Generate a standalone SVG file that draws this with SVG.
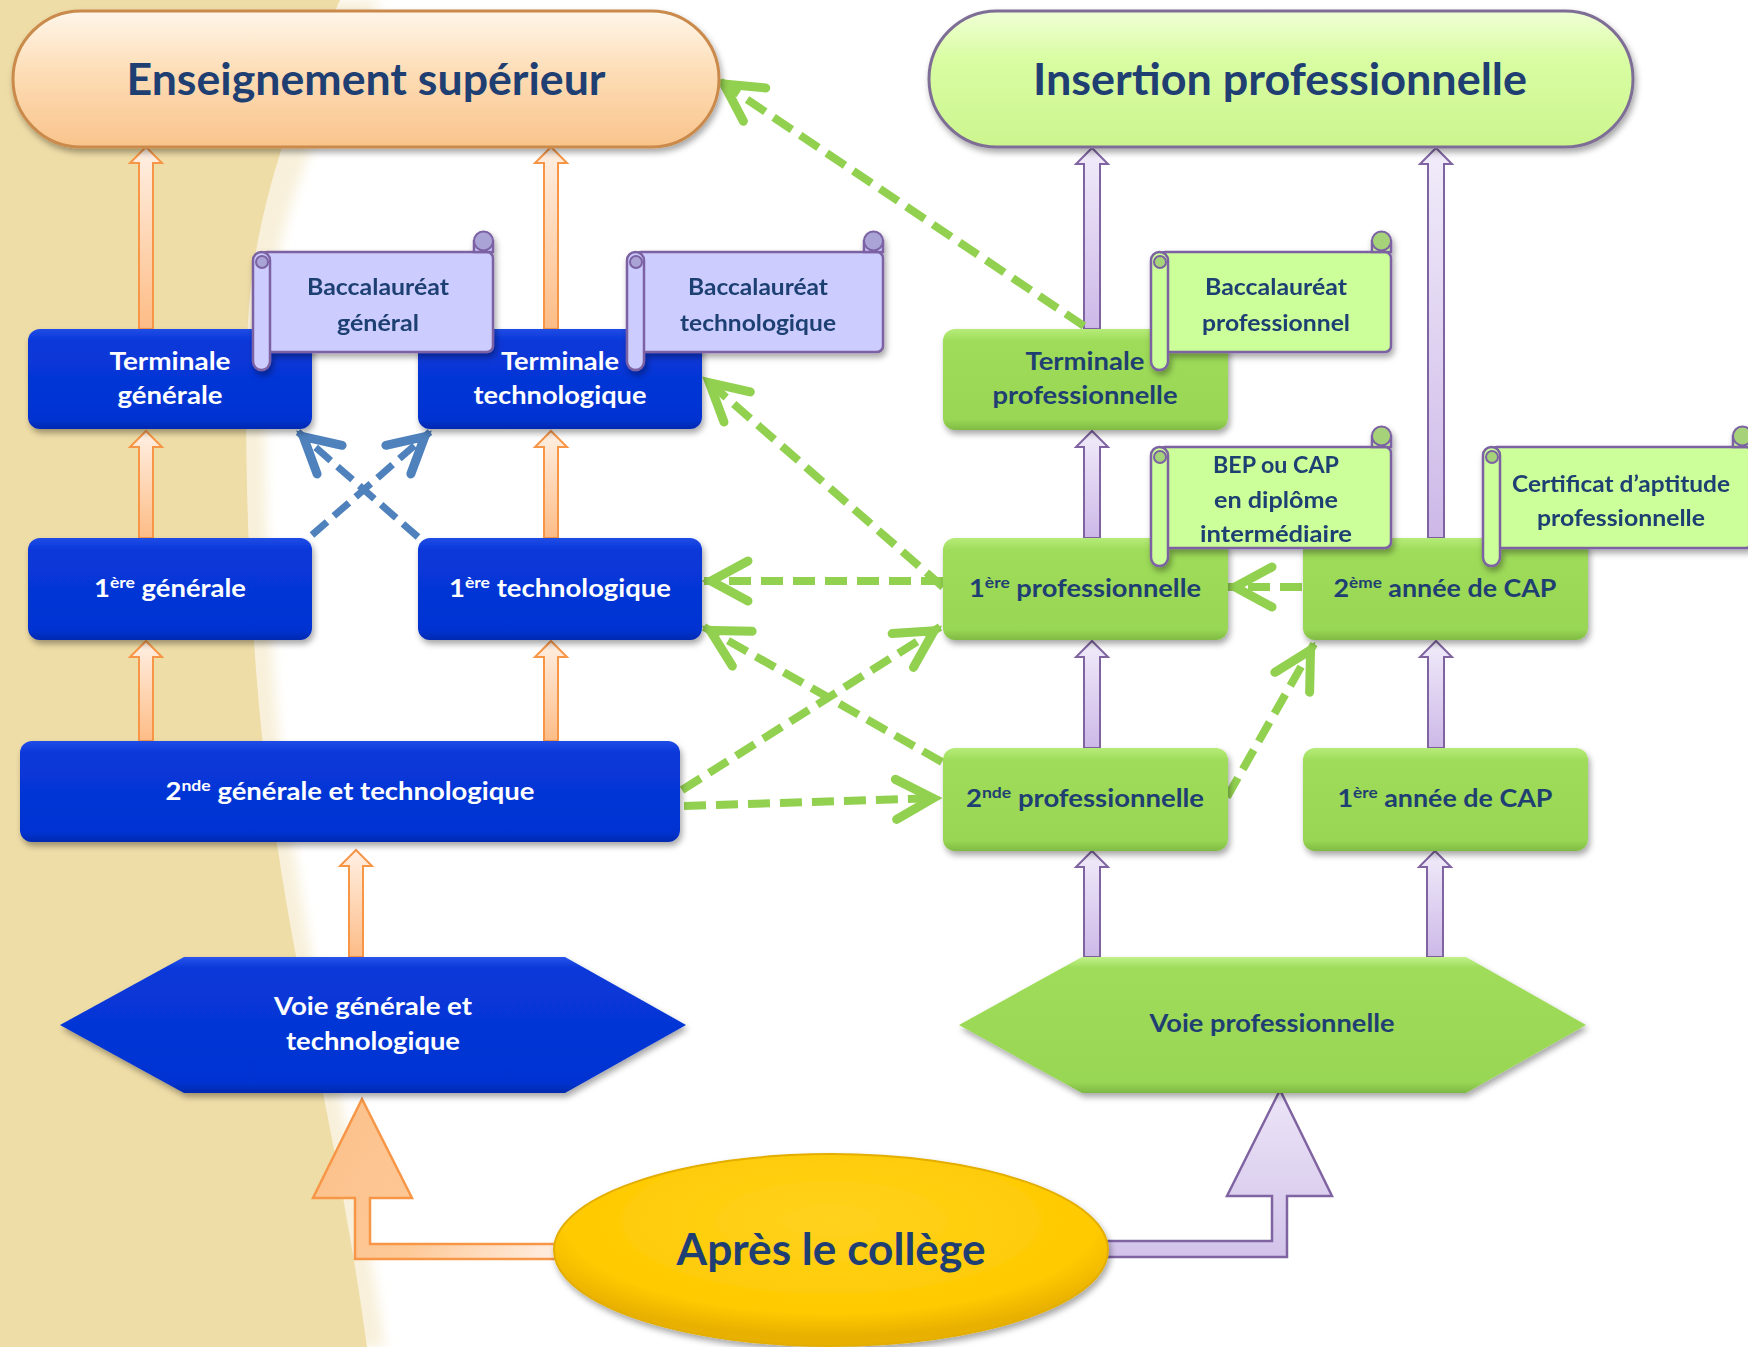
<svg xmlns="http://www.w3.org/2000/svg" width="1748" height="1347" viewBox="0 0 1748 1347">
<style>
.lbl{font-family:Lato,"Liberation Sans",sans-serif;font-weight:700;text-anchor:middle}
.w{fill:#ffffff}
.d{fill:#1F3F72}
.big{font-size:43px}
.mid{font-size:25px}
.sm{font-size:22px}
.box-b{fill:url(#gBlue);filter:url(#sh)}
.box-g{fill:url(#gGreen);filter:url(#sh)}
.arrO{fill:url(#gArrO);stroke:#F79646;stroke-width:2}
.arrP{fill:url(#gArrP);stroke:#8064A2;stroke-width:2}
.dashG{stroke:#92D050;stroke-width:8;stroke-dasharray:22 10;fill:none;marker-end:url(#chevG)}
.dashB{stroke:#4F81BD;stroke-width:7;stroke-dasharray:20 9;fill:none;marker-end:url(#chevB)}
.scr-l{fill:#CCCCFF;stroke:#7B62A3;stroke-width:2.5}
.scr-g{fill:#CCFF99;stroke:#7B62A3;stroke-width:2.5}
.curl-l{fill:#A9A3D6;stroke:#7B62A3;stroke-width:2}
.curl-g{fill:#A6D27A;stroke:#7B62A3;stroke-width:2}
</style>
<defs>
<filter id="sh" x="-10%" y="-10%" width="125%" height="135%">
<feDropShadow dx="2" dy="4" stdDeviation="3" flood-color="#000" flood-opacity="0.35"/>
</filter>
<filter id="blur" x="-20%" y="-5%" width="140%" height="110%">
<feGaussianBlur stdDeviation="6"/>
</filter>
<linearGradient id="gBlue" x1="0" y1="0" x2="0" y2="1">
<stop offset="0" stop-color="#1F4CE6"/><stop offset="0.12" stop-color="#0838D9"/><stop offset="0.9" stop-color="#0433D2"/><stop offset="1" stop-color="#0329B0"/>
</linearGradient>
<linearGradient id="gGreen" x1="0" y1="0" x2="0" y2="1">
<stop offset="0" stop-color="#B6EC78"/><stop offset="0.12" stop-color="#9EDC5A"/><stop offset="0.9" stop-color="#98D654"/><stop offset="1" stop-color="#80BA44"/>
</linearGradient>
<linearGradient id="gPillO" x1="0" y1="0" x2="0" y2="1">
<stop offset="0" stop-color="#FFF6EA"/><stop offset="0.45" stop-color="#FDDDB6"/><stop offset="1" stop-color="#F9C48C"/>
</linearGradient>
<linearGradient id="gPillG" x1="0" y1="0" x2="0" y2="1">
<stop offset="0" stop-color="#F0FFD6"/><stop offset="0.35" stop-color="#D9FDA3"/><stop offset="1" stop-color="#CCF58E"/>
</linearGradient>
<radialGradient id="gYel" cx="0.5" cy="0.35" r="0.6">
<stop offset="0" stop-color="#FFD21F"/><stop offset="0.8" stop-color="#FFCA00"/><stop offset="1" stop-color="#E8B000"/>
</radialGradient>
<linearGradient id="gArrO" x1="0" y1="0" x2="0" y2="1">
<stop offset="0" stop-color="#FFF0E4"/><stop offset="1" stop-color="#FDBC86"/>
</linearGradient>
<linearGradient id="gArrP" x1="0" y1="0" x2="0" y2="1">
<stop offset="0" stop-color="#F1ECFA"/><stop offset="1" stop-color="#CDB8E8"/>
</linearGradient>
<linearGradient id="gLO" gradientUnits="userSpaceOnUse" x1="560" y1="1250" x2="330" y2="1120">
<stop offset="0" stop-color="#FFEEE2"/><stop offset="0.5" stop-color="#FDC997"/><stop offset="1" stop-color="#FCC18C"/>
</linearGradient>
<linearGradient id="gLP" gradientUnits="userSpaceOnUse" x1="1280" y1="1090" x2="1280" y2="1260">
<stop offset="0" stop-color="#ECE5F7"/><stop offset="1" stop-color="#D2C2EA"/>
</linearGradient>
<linearGradient id="gHexB" x1="0" y1="0" x2="0" y2="1">
<stop offset="0" stop-color="#2A55EA"/><stop offset="0.08" stop-color="#0838D9"/><stop offset="0.92" stop-color="#0433D2"/><stop offset="1" stop-color="#022AAE"/>
</linearGradient>
<linearGradient id="gHexG" x1="0" y1="0" x2="0" y2="1">
<stop offset="0" stop-color="#C2F28A"/><stop offset="0.08" stop-color="#9EDC5A"/><stop offset="0.92" stop-color="#98D654"/><stop offset="1" stop-color="#7EB844"/>
</linearGradient>
<marker id="chevG" markerUnits="userSpaceOnUse" markerWidth="80" markerHeight="80" viewBox="-60 -40 80 80" refX="0" refY="0" orient="auto" overflow="visible">
<path d="M-44,-20 L-7,0 L-44,20" fill="none" stroke="#92D050" stroke-width="9" stroke-linecap="round" stroke-linejoin="miter"/>
</marker>
<marker id="chevB" markerUnits="userSpaceOnUse" markerWidth="80" markerHeight="80" viewBox="-60 -40 80 80" refX="0" refY="0" orient="auto" overflow="visible">
<path d="M-42,-19 L-7,0 L-42,19" fill="none" stroke="#4F81BD" stroke-width="9" stroke-linecap="round" stroke-linejoin="miter"/>
</marker>
</defs>

<rect width="1748" height="1347" fill="#ffffff"/>
<path d="M0,0 H380 C335,90 278,200 268,320 C260,450 268,700 294,850 C316,1000 356,1150 385,1347 H0 Z" fill="#F8F0DA" filter="url(#blur)"/>
<path d="M0,0 H340 C300,90 255,200 248,320 C242,450 250,700 278,850 C300,1000 340,1150 367,1347 H0 Z" fill="#EFDDA7"/>

<g id="connectors">
<path class="arrO" d="M146,147 L162,163 L153,163 L153,329 L139,329 L139,163 L130,163 Z"/>
<path class="arrO" d="M551,147 L567,163 L558,163 L558,329 L544,329 L544,163 L535,163 Z"/>
<path class="arrO" d="M146,431 L162,447 L153,447 L153,538 L139,538 L139,447 L130,447 Z"/>
<path class="arrO" d="M551,431 L567,447 L558,447 L558,538 L544,538 L544,447 L535,447 Z"/>
<path class="arrO" d="M146,641 L162,657 L153,657 L153,741 L139,741 L139,657 L130,657 Z"/>
<path class="arrO" d="M551,641 L567,657 L558,657 L558,741 L544,741 L544,657 L535,657 Z"/>
<path class="arrO" d="M356,850 L372,866 L363,866 L363,957 L349,957 L349,866 L340,866 Z"/>
<path class="arrP" d="M1092,148 L1108,164 L1100,164 L1100,329 L1084,329 L1084,164 L1076,164 Z"/>
<path class="arrP" d="M1436,148 L1452,164 L1444,164 L1444,538 L1428,538 L1428,164 L1420,164 Z"/>
<path class="arrP" d="M1092,431 L1108,447 L1100,447 L1100,538 L1084,538 L1084,447 L1076,447 Z"/>
<path class="arrP" d="M1092,641 L1108,657 L1100,657 L1100,748 L1084,748 L1084,657 L1076,657 Z"/>
<path class="arrP" d="M1436,641 L1452,657 L1444,657 L1444,748 L1428,748 L1428,657 L1420,657 Z"/>
<path class="arrP" d="M1092,851 L1108,867 L1100,867 L1100,957 L1084,957 L1084,867 L1076,867 Z"/>
<path class="arrP" d="M1435,851 L1451,867 L1443,867 L1443,957 L1427,957 L1427,867 L1419,867 Z"/>
<path d="M600,1244 L370,1244 L370,1198 L412,1198 L362,1099 L313,1198 L355,1198 L355,1259 L600,1259 Z" fill="url(#gLO)" stroke="#F79646" stroke-width="2.5"/>
<path d="M1060,1241 L1272,1241 L1272,1196 L1227,1196 L1280,1090 L1332,1196 L1287,1196 L1287,1257 L1060,1257 Z" fill="url(#gLP)" stroke="#8064A2" stroke-width="2.5"/>
<line class="dashG" x1="1084" y1="326" x2="718" y2="80"/>
<line class="dashG" x1="943" y1="587" x2="704" y2="378"/>
<line class="dashG" x1="943" y1="581" x2="704" y2="581"/>
<line class="dashG" x1="942" y1="762" x2="704" y2="627"/>
<line class="dashG" x1="682" y1="790" x2="940" y2="627"/>
<line class="dashG" x1="684" y1="806" x2="940" y2="798"/>
<line class="dashG" x1="1302" y1="587" x2="1228" y2="587"/>
<line class="dashG" x1="1227" y1="797" x2="1314" y2="644"/>
<line class="dashB" x1="312" y1="535" x2="430" y2="432"/>
<line class="dashB" x1="418" y1="537" x2="298" y2="432"/>
</g>

<g id="n-enssup">
<rect x="13" y="11" width="706" height="136" rx="68" fill="url(#gPillO)" stroke="#C98A4B" stroke-width="3" filter="url(#sh)"/>
<text class="lbl d big" x="366" y="95" textLength="479" lengthAdjust="spacingAndGlyphs">Enseignement supérieur</text>
</g>
<g id="n-insertion">
<rect x="929" y="11" width="704" height="136" rx="68" fill="url(#gPillG)" stroke="#7E6E96" stroke-width="3" filter="url(#sh)"/>
<text class="lbl d big" x="1280" y="95" textLength="494" lengthAdjust="spacingAndGlyphs">Insertion professionnelle</text>
</g>

<g id="n-term-gen">
<rect class="box-b" x="28" y="329" width="284" height="100" rx="12"/>
<text class="lbl w mid" x="170" y="370" textLength="121" lengthAdjust="spacingAndGlyphs">Terminale</text>
<text class="lbl w mid" x="170" y="404" textLength="105" lengthAdjust="spacingAndGlyphs">générale</text>
</g>
<g id="n-term-tech">
<rect class="box-b" x="418" y="329" width="284" height="100" rx="12"/>
<text class="lbl w mid" x="560" y="370" textLength="118" lengthAdjust="spacingAndGlyphs">Terminale</text>
<text class="lbl w mid" x="560" y="404" textLength="173" lengthAdjust="spacingAndGlyphs">technologique</text>
</g>
<g id="n-1-gen">
<rect class="box-b" x="28" y="538" width="284" height="102" rx="12"/>
<text class="lbl w mid" x="170" y="597" textLength="152" lengthAdjust="spacingAndGlyphs">1<tspan font-size="16" dy="-9">ère</tspan><tspan dy="9"> générale</tspan></text>
</g>
<g id="n-1-tech">
<rect class="box-b" x="418" y="538" width="284" height="102" rx="12"/>
<text class="lbl w mid" x="560" y="597" textLength="222" lengthAdjust="spacingAndGlyphs">1<tspan font-size="16" dy="-9">ère</tspan><tspan dy="9"> technologique</tspan></text>
</g>
<g id="n-2-gt">
<rect class="box-b" x="20" y="741" width="660" height="101" rx="12"/>
<text class="lbl w mid" x="350" y="800" textLength="369" lengthAdjust="spacingAndGlyphs">2<tspan font-size="16" dy="-9">nde</tspan><tspan dy="9"> générale et technologique</tspan></text>
</g>

<g id="n-term-pro">
<rect class="box-g" x="943" y="329" width="285" height="101" rx="12"/>
<text class="lbl d mid" x="1085" y="370" textLength="119" lengthAdjust="spacingAndGlyphs">Terminale</text>
<text class="lbl d mid" x="1085" y="404" textLength="185" lengthAdjust="spacingAndGlyphs">professionnelle</text>
</g>
<g id="n-1-pro">
<rect class="box-g" x="943" y="538" width="285" height="102" rx="12"/>
<text class="lbl d mid" x="1085" y="597" textLength="232" lengthAdjust="spacingAndGlyphs">1<tspan font-size="16" dy="-9">ère</tspan><tspan dy="9"> professionnelle</tspan></text>
</g>
<g id="n-2-cap">
<rect class="box-g" x="1303" y="538" width="285" height="102" rx="12"/>
<text class="lbl d mid" x="1445" y="597" textLength="223" lengthAdjust="spacingAndGlyphs">2<tspan font-size="16" dy="-9">ème</tspan><tspan dy="9"> année de CAP</tspan></text>
</g>
<g id="n-2-pro">
<rect class="box-g" x="943" y="748" width="285" height="103" rx="12"/>
<text class="lbl d mid" x="1085" y="807" textLength="238" lengthAdjust="spacingAndGlyphs">2<tspan font-size="16" dy="-9">nde</tspan><tspan dy="9"> professionnelle</tspan></text>
</g>
<g id="n-1-cap">
<rect class="box-g" x="1303" y="748" width="285" height="103" rx="12"/>
<text class="lbl d mid" x="1445" y="807" textLength="215" lengthAdjust="spacingAndGlyphs">1<tspan font-size="16" dy="-9">ère</tspan><tspan dy="9"> année de CAP</tspan></text>
</g>

<g id="n-voie-gt">
<polygon points="60,1025 184,957 565,957 686,1025 565,1093 184,1093" fill="url(#gHexB)" filter="url(#sh)"/>
<text class="lbl w mid" x="373" y="1015" textLength="198" lengthAdjust="spacingAndGlyphs">Voie générale et</text>
<text class="lbl w mid" x="373" y="1050" textLength="174" lengthAdjust="spacingAndGlyphs">technologique</text>
</g>
<g id="n-voie-pro">
<polygon points="959,1025 1082,957 1466,957 1586,1025 1466,1093 1082,1093" fill="url(#gHexG)" filter="url(#sh)"/>
<text class="lbl d mid" x="1272" y="1032" textLength="245" lengthAdjust="spacingAndGlyphs">Voie professionnelle</text>
</g>
<g id="n-college">
<ellipse cx="831" cy="1250" rx="277" ry="96" fill="url(#gYel)" stroke="#E3AE00" stroke-width="2" filter="url(#sh)"/>
<text class="lbl d big" x="831" y="1265" textLength="309" lengthAdjust="spacingAndGlyphs">Après le collège</text>
</g>

<g id="n-bac-gen" filter="url(#sh)">
<rect class="scr-l" x="261" y="252" width="232" height="100" rx="6"/>
<rect class="scr-l" x="474" y="241" width="19" height="11"/>
<circle class="curl-l" cx="483.5" cy="241" r="9.5"/>
<rect class="scr-l" x="253" y="252" width="17" height="118" rx="8.5"/>
<circle class="curl-l" cx="262" cy="262" r="6"/>
<text class="lbl d sm" x="378" y="295" textLength="142" lengthAdjust="spacingAndGlyphs">Baccalauréat</text>
<text class="lbl d sm" x="378" y="331" textLength="82" lengthAdjust="spacingAndGlyphs">général</text>
</g>
<g id="n-bac-tech" filter="url(#sh)">
<rect class="scr-l" x="635" y="252" width="248" height="100" rx="6"/>
<rect class="scr-l" x="864" y="241" width="19" height="11"/>
<circle class="curl-l" cx="873.5" cy="241" r="9.5"/>
<rect class="scr-l" x="627" y="252" width="17" height="118" rx="8.5"/>
<circle class="curl-l" cx="636" cy="262" r="6"/>
<text class="lbl d sm" x="758" y="295" textLength="140" lengthAdjust="spacingAndGlyphs">Baccalauréat</text>
<text class="lbl d sm" x="758" y="331" textLength="156" lengthAdjust="spacingAndGlyphs">technologique</text>
</g>
<g id="n-bac-pro" filter="url(#sh)">
<rect class="scr-g" x="1159" y="252" width="232" height="100" rx="6"/>
<rect class="scr-g" x="1372" y="241" width="19" height="11"/>
<circle class="curl-g" cx="1381.5" cy="241" r="9.5"/>
<rect class="scr-g" x="1151" y="252" width="17" height="118" rx="8.5"/>
<circle class="curl-g" cx="1160" cy="262" r="6"/>
<text class="lbl d sm" x="1276" y="295" textLength="142" lengthAdjust="spacingAndGlyphs">Baccalauréat</text>
<text class="lbl d sm" x="1276" y="331" textLength="148" lengthAdjust="spacingAndGlyphs">professionnel</text>
</g>
<g id="n-bep" filter="url(#sh)">
<rect class="scr-g" x="1159" y="447" width="232" height="101" rx="6"/>
<rect class="scr-g" x="1372" y="436" width="19" height="11"/>
<circle class="curl-g" cx="1381.5" cy="436" r="9.5"/>
<rect class="scr-g" x="1151" y="447" width="17" height="119" rx="8.5"/>
<circle class="curl-g" cx="1160" cy="457" r="6"/>
<text class="lbl d sm" x="1276" y="473" textLength="126" lengthAdjust="spacingAndGlyphs">BEP ou CAP</text>
<text class="lbl d sm" x="1276" y="508" textLength="124" lengthAdjust="spacingAndGlyphs">en diplôme</text>
<text class="lbl d sm" x="1276" y="542" textLength="152" lengthAdjust="spacingAndGlyphs">intermédiaire</text>
</g>
<g id="n-cap-cert" filter="url(#sh)">
<rect class="scr-g" x="1491" y="447" width="261" height="101" rx="6"/>
<rect class="scr-g" x="1733" y="436" width="19" height="11"/>
<circle class="curl-g" cx="1742.5" cy="436" r="9.5"/>
<rect class="scr-g" x="1483" y="447" width="17" height="119" rx="8.5"/>
<circle class="curl-g" cx="1492" cy="457" r="6"/>
<text class="lbl d sm" x="1621" y="492" textLength="218" lengthAdjust="spacingAndGlyphs">Certificat d’aptitude</text>
<text class="lbl d sm" x="1621" y="526" textLength="168" lengthAdjust="spacingAndGlyphs">professionnelle</text>
</g>
</svg>
